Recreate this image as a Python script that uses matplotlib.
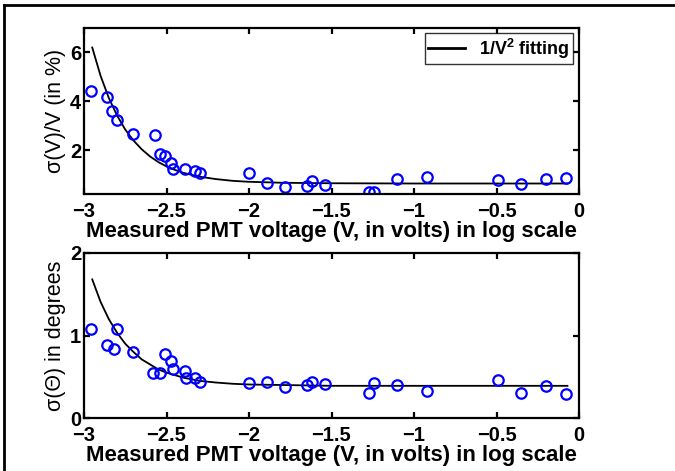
import numpy as np
import matplotlib
matplotlib.use('Agg')
from matplotlib import pyplot as plt
from matplotlib.lines import Line2D

plt.rcParams['font.family'] = ['Liberation Sans', 'DejaVu Sans']
plt.rcParams['mathtext.fontset'] = 'custom'
plt.rcParams['mathtext.rm'] = 'Liberation Sans:bold'
plt.rcParams['mathtext.bf'] = 'Liberation Sans:bold'

# measured points, x = log10(V)
x_v = [-2.96, -2.86, -2.83, -2.80, -2.70, -2.57, -2.54, -2.51, -2.47, -2.46,
       -2.39, -2.33, -2.30, -2.00, -1.89, -1.78, -1.65, -1.62, -1.54,
       -1.27, -1.24, -1.105, -0.92, -0.49, -0.35, -0.20, -0.08]
sig_v = [4.42, 4.18, 3.59, 3.22, 2.65, 2.62, 1.84, 1.76, 1.48, 1.21,
         1.21, 1.16, 1.07, 1.05, 0.67, 0.50, 0.53, 0.75, 0.58,
         0.30, 0.30, 0.82, 0.91, 0.78, 0.60, 0.80, 0.84]

x_t = [-2.96, -2.86, -2.82, -2.80, -2.70, -2.58, -2.54, -2.51, -2.47, -2.46,
       -2.39, -2.38, -2.33, -2.30, -2.00, -1.89, -1.78, -1.65, -1.62, -1.54,
       -1.27, -1.24, -1.105, -0.92, -0.49, -0.35, -0.20, -0.08]
sig_t = [1.08, 0.88, 0.84, 1.08, 0.80, 0.55, 0.55, 0.77, 0.69, 0.60,
         0.57, 0.49, 0.49, 0.44, 0.42, 0.44, 0.38, 0.40, 0.44, 0.41,
         0.30, 0.43, 0.40, 0.33, 0.46, 0.30, 0.39, 0.29]

# fitted curves
fit_x = [-2.95, -2.9, -2.85, -2.8, -2.75, -2.7, -2.65, -2.6, -2.55, -2.5,
         -2.45, -2.4, -2.3, -2.2, -2.1, -2.0, -1.8, -1.5, -1.0, -0.07]
fit_v = [6.2, 5.05, 4.14, 3.42, 2.84, 2.39, 2.03, 1.74, 1.51, 1.33,
         1.19, 1.07, 0.91, 0.81, 0.74, 0.70, 0.66, 0.64, 0.63, 0.63]
fit_t = [1.68, 1.41, 1.20, 1.035, 0.90, 0.80, 0.71, 0.65, 0.59, 0.55,
         0.52, 0.49, 0.45, 0.43, 0.415, 0.406, 0.40, 0.39, 0.39, 0.39]

x_ticks = [-3, -2.5, -2, -1.5, -1, -0.5, 0]
x_ticklabels = ['\u22123', '\u22122.5', '\u22122', '\u22121.5', '\u22121', '\u22120.5', '0']
xlabel = 'Measured PMT voltage (V, in volts) in log scale'

fig = plt.figure(figsize=(6.75, 4.71), dpi=100)

# outer frame
fig.add_artist(Line2D([4 / 675, 4 / 675], [0, 1 - 5 / 471], color='black', lw=2, transform=fig.transFigure))
fig.add_artist(Line2D([4 / 675, 1], [1 - 5 / 471, 1 - 5 / 471], color='black', lw=2, transform=fig.transFigure))

ax1 = fig.add_axes([84 / 675, 1 - 194 / 471, 495 / 675, 166 / 471])
ax2 = fig.add_axes([84 / 675, 1 - 418 / 471, 495 / 675, 165 / 471])


def style(ax):
    for s in ax.spines.values():
        s.set_linewidth(1.6)
    ax.tick_params(direction='in', top=True, right=True, length=4, width=1.6,
                   labelsize=14.5, pad=2)
    ax.tick_params(axis='x', pad=6)
    ax.set_xlim(-3, 0)
    ax.set_xticks(x_ticks)
    ax.set_xticklabels(x_ticklabels, fontweight='bold')
    for lab in ax.get_yticklabels():
        lab.set_fontweight('bold')
    ax.set_xlabel(xlabel, fontsize=16, fontweight='bold', labelpad=0)


ax1.plot(fit_x, fit_v, color='black', lw=1.3, label=r'1/V$^{2}$ fitting')
ax1.plot(x_v, sig_v, 'o', mfc='none', mec='blue', ms=7.5, mew=1.6)
ax1.set_ylim(0.2, 7)
ax1.set_yticks([2, 4, 6])
ax1.set_ylabel('\u03c3(V)/V (in %)', fontsize=15.5, labelpad=3)
style(ax1)
leg = ax1.legend(loc='upper right', fontsize=13, frameon=True, fancybox=False,
                 edgecolor='black', handlelength=2.0, borderpad=0.2,
                 handletextpad=0.8, borderaxespad=0,
                 bbox_to_anchor=(1 - 6 / 495, 1 - 5 / 166))
leg.get_frame().set_linewidth(1.0)
for t in leg.get_texts():
    t.set_fontweight('bold')
leg.get_lines()[0].set_linewidth(2)

ax2.plot(fit_x, fit_t, color='black', lw=1.3)
ax2.plot(x_t, sig_t, 'o', mfc='none', mec='blue', ms=7.5, mew=1.6)
ax2.set_ylim(0, 2)
ax2.set_yticks([0, 1, 2])
ax2.set_ylabel('\u03c3(\u0398) in degrees', fontsize=15.5, labelpad=3)
style(ax2)

fig.savefig('out.png', dpi=100)
